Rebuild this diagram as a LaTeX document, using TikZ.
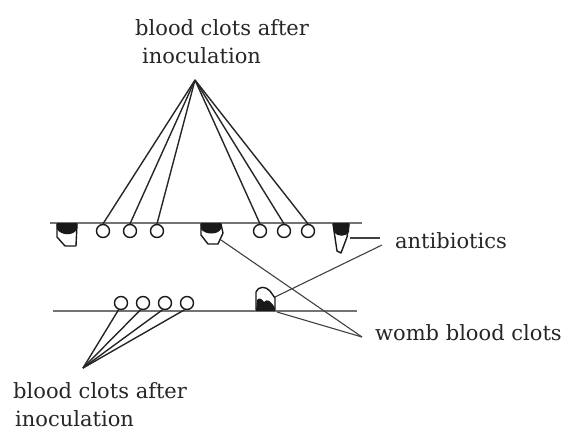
\documentclass[tikz,border=0pt]{standalone}
\usepackage{fontspec}
\setmainfont{DejaVu Serif}
\begin{document}
\begin{tikzpicture}[x=1pt,y=-1pt,
  clotcirc/.style={circle,draw=black!90,line width=1.4pt,minimum size=13pt,inner sep=0pt},
  baseline/.style={draw=black!55,line width=1.6pt},
  fan/.style={draw=black!85,line width=1.4pt},
  pointer/.style={draw=black!75,line width=1.1pt},
  lbl/.style={anchor=base west,inner sep=0pt,align=left,font=\fontsize{21}{28}\selectfont,text=black!85},
  clotline/.style={draw=black!90,line width=1.4pt,line join=round}]
\useasboundingbox (0,0) rectangle (561,432);

% base lines
\coordinate (t1) at (50,223);
\coordinate (t2) at (362,223);
\coordinate (b1) at (53,311);
\coordinate (b2) at (357,311);
\draw[baseline] (t1) -- (t2);
\draw[baseline] (b1) -- (b2);

% top circles
\node[clotcirc] (c1) at (103,231) {};
\node[clotcirc] (c2) at (130,231) {};
\node[clotcirc] (c3) at (157,231) {};
\node[clotcirc] (c4) at (260,231) {};
\node[clotcirc] (c5) at (284,231) {};
\node[clotcirc] (c6) at (308,231) {};

% bottom circles
\node[clotcirc] (d1) at (121,303) {};
\node[clotcirc] (d2) at (143,303) {};
\node[clotcirc] (d3) at (165,303) {};
\node[clotcirc] (d4) at (187,303) {};

% fan apexes
\coordinate (topapex) at (195,80);
\coordinate (botapex) at (83,368);
\foreach \c in {c1,c2,c3,c4,c5,c6} \draw[fan] (topapex) -- (\c.north);
\foreach \d in {d1,d2,d3,d4} \draw[fan] (\d.250) -- (botapex);

% clots on top line
\draw[clotline] (57,224) -- (57,237) -- (65,246) -- (76,246) -- (77,224);
\fill[black!90] (56.5,223) -- (77.5,223) -- (77,229) .. controls (74,236) and (61,236) .. (57,229) -- cycle;

\draw[clotline] (201,224) -- (201,235) -- (208,244) -- (218,244) -- (223,233) -- (221,224);
\fill[black!90] (200.5,223) -- (221.5,223) -- (221,229) .. controls (218,235) and (205,235) .. (201,229) -- cycle;

\draw[clotline] (333,224) -- (337,251) -- (341,253) -- (347,237) -- (349,224);
\fill[black!90] (332.5,223) -- (349.5,223) -- (349,232) .. controls (346,237) and (337,237) .. (334,232) -- cycle;

% clot on bottom line
\draw[clotline] (256,310) -- (256,292) .. controls (258,286) and (266,286) .. (270,291) -- (275,298) -- (275,310);
\fill[black!90] (256,311) -- (257,300) .. controls (259,297) and (262,299) .. (264,302) .. controls (267,298) and (271,301) .. (275,308) -- (275,311) -- cycle;

% pointer ends
\coordinate (midclot) at (221,240);
\coordinate (rightclot) at (350,238);
\coordinate (botclottop) at (275,297);
\coordinate (botclotbase) at (277,312);
\coordinate (abend) at (380,238);
\coordinate (abend2) at (382,245);
\coordinate (wombend) at (362,337);

\draw[pointer,line width=1.6pt] (rightclot) -- (abend);
\draw[pointer] (abend2) -- (botclottop);
\draw[pointer] (midclot) -- (wombend);
\draw[pointer] (botclotbase) -- (wombend);

% labels
\node[lbl] (toplbl) at (135,63) {blood clots after\\\hspace*{7pt}inoculation};
\node[lbl] (botlbl) at (13,426) {blood clots after\\\hspace*{2pt}inoculation};
\node[lbl] (ablbl) at (395,248) {antibiotics};
\node[lbl] (wblbl) at (375,340) {womb blood clots};
\end{tikzpicture}
\end{document}
